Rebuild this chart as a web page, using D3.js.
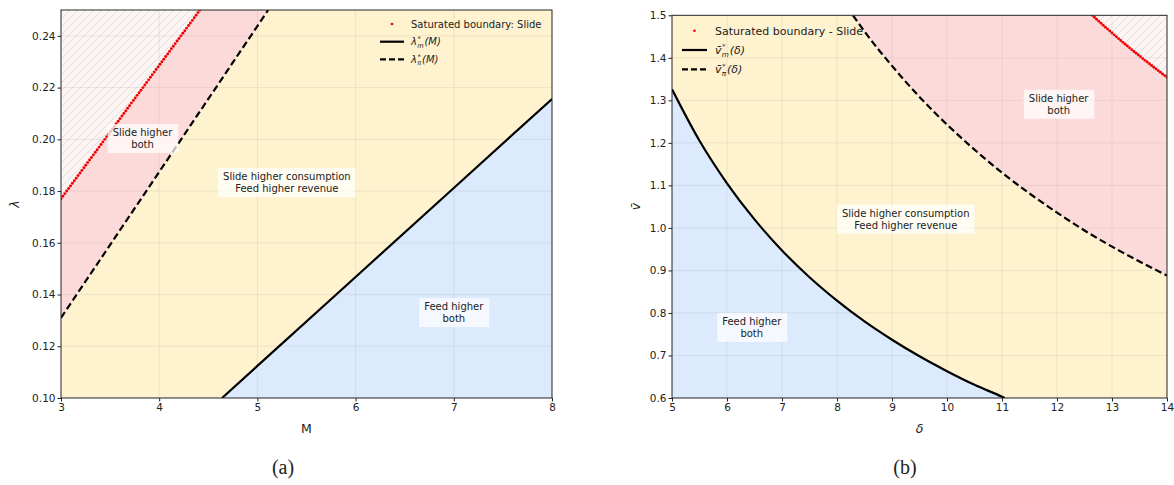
<!DOCTYPE html>
<html>
<head>
<meta charset="utf-8">
<script src="https://cdn.jsdelivr.net/npm/d3@7"></script>
<style>
  body { margin: 0; background: #fff; }
  text { font-family: "DejaVu Sans", sans-serif; fill: #222; }
</style>
</head>
<body>
<svg id="chart" width="1174" height="485"></svg>
<script>
// ---------- panel (a): lambda vs M ----------
const aXTicks = [3, 4, 5, 6, 7, 8];
const aYTicks = [0.10, 0.12, 0.14, 0.16, 0.18, 0.20, 0.22, 0.24];
// lambda*_m(M)  (solid)
const aSolidM = [4.64, 5, 6, 7, 8];
const aSolidL = [0.100, 0.1124, 0.1468, 0.1812, 0.2156];
// lambda*_pi(M) (dashed)
const aDashM = [3, 3.5, 4, 4.5, 5, 5.11];
const aDashL = [0.131, 0.1592, 0.1874, 0.2156, 0.2438, 0.250];
// saturated boundary (Slide)
const aSatM = [3.000, 3.019, 3.039, 3.058, 3.078, 3.097, 3.116, 3.136, 3.155, 3.174,
  3.194, 3.213, 3.233, 3.252, 3.271, 3.291, 3.310, 3.330, 3.349, 3.368,
  3.388, 3.407, 3.426, 3.446, 3.465, 3.485, 3.504, 3.523, 3.543, 3.562,
  3.582, 3.601, 3.620, 3.640, 3.659, 3.678, 3.698, 3.717, 3.737, 3.756,
  3.775, 3.795, 3.814, 3.834, 3.853, 3.872, 3.892, 3.911, 3.930, 3.950,
  3.969, 3.989, 4.008, 4.027, 4.047, 4.066, 4.086, 4.105, 4.124, 4.144,
  4.163, 4.182, 4.202, 4.221, 4.241, 4.260, 4.279, 4.299, 4.318, 4.338,
  4.357, 4.376, 4.396, 4.415];
const aSatL = [0.177, 0.178, 0.179, 0.180, 0.181, 0.182, 0.183, 0.184, 0.185, 0.186,
  0.187, 0.188, 0.189, 0.190, 0.191, 0.192, 0.193, 0.194, 0.195, 0.196,
  0.197, 0.198, 0.199, 0.200, 0.201, 0.202, 0.203, 0.204, 0.205, 0.206,
  0.207, 0.208, 0.209, 0.210, 0.211, 0.212, 0.213, 0.214, 0.215, 0.216,
  0.217, 0.218, 0.219, 0.220, 0.221, 0.222, 0.223, 0.224, 0.225, 0.226,
  0.227, 0.228, 0.229, 0.230, 0.231, 0.232, 0.233, 0.234, 0.235, 0.236,
  0.237, 0.238, 0.239, 0.240, 0.241, 0.242, 0.243, 0.244, 0.245, 0.246,
  0.247, 0.248, 0.249, 0.250];
const aRegionText = [["Slide higher", "both"], ["Slide higher consumption", "Feed higher revenue"], ["Feed higher", "both"]];
const aRegionM = [3.83, 5.30, 7.00];
const aRegionL = [0.2005, 0.1835, 0.1332];

// ---------- panel (b): v-bar vs delta ----------
const bXTicks = [5, 6, 7, 8, 9, 10, 11, 12, 13, 14];
const bYTicks = [0.6, 0.7, 0.8, 0.9, 1.0, 1.1, 1.2, 1.3, 1.4, 1.5];
// v*_m(delta) (solid)
const bSolidD = [5.0, 5.5, 6.0, 6.5, 7.0, 7.5, 8.0, 8.5, 9.0, 9.5, 10.0, 10.5, 11.0, 11.05];
const bSolidV = [1.326, 1.205, 1.105, 1.020, 0.947, 0.884, 0.829, 0.780, 0.737, 0.698, 0.663, 0.631, 0.603, 0.600];
// v*_pi(delta) (dashed)
const bDashD = [8.29, 8.5, 9.0, 9.5, 10.0, 10.5, 11.0, 11.5, 12.0, 12.5, 13.0, 13.5, 14.0];
const bDashV = [1.500, 1.462, 1.381, 1.308, 1.243, 1.184, 1.130, 1.081, 1.036, 0.994, 0.956, 0.921, 0.888];
// saturated boundary (Slide)
const bSatD = [12.64, 12.68, 12.72, 12.76, 12.80, 12.84, 12.88, 12.92, 12.96, 13.00,
  13.04, 13.08, 13.12, 13.16, 13.20, 13.24, 13.28, 13.32, 13.36, 13.40,
  13.44, 13.48, 13.52, 13.56, 13.60, 13.64, 13.68, 13.72, 13.76, 13.80,
  13.84, 13.88, 13.92, 13.96, 14.00];
const bSatV = [1.5000, 1.4953, 1.4906, 1.4859, 1.4813, 1.4766, 1.4720, 1.4675, 1.4630, 1.4585,
  1.4540, 1.4495, 1.4451, 1.4407, 1.4364, 1.4320, 1.4277, 1.4234, 1.4192, 1.4149,
  1.4107, 1.4065, 1.4024, 1.3982, 1.3941, 1.3900, 1.3860, 1.3819, 1.3779, 1.3739,
  1.3699, 1.3660, 1.3621, 1.3582, 1.3543];
const bRegionText = [["Slide higher", "both"], ["Slide higher consumption", "Feed higher revenue"], ["Feed higher", "both"]];
const bRegionD = [12.03, 9.25, 6.45];
const bRegionV = [1.292, 1.022, 0.767];

// ---------- styling ----------
const COL_YELLOW = "#fff2cf";
const COL_BLUE = "#dbeafd";
const COL_PINK = "#fddada";
const COL_SAT = "#fdf4f4";
const COL_RED = "#f00000";

const svg = d3.select("#chart");
const defs = svg.append("defs");
const hatch = defs.append("pattern").attr("id", "hatch").attr("patternUnits", "userSpaceOnUse")
  .attr("width", 8).attr("height", 8);
hatch.append("rect").attr("width", 8).attr("height", 8).attr("fill", COL_SAT);
hatch.append("path").attr("d", "M-2,2 L2,-2 M0,8 L8,0 M6,10 L10,6")
  .attr("stroke", "#d2cccc").attr("stroke-width", 0.6);

const zip = (xs, ys) => xs.map((x, i) => [x, ys[i]]);

function panel(o) {
  const g = svg.append("g");
  const x = d3.scaleLinear().domain(o.xDomain).range([o.left, o.right]);
  const y = d3.scaleLinear().domain(o.yDomain).range([o.bottom, o.top]);
  const clipId = "clip-" + o.id;
  defs.append("clipPath").attr("id", clipId).append("rect")
    .attr("x", o.left).attr("y", o.top).attr("width", o.right - o.left).attr("height", o.bottom - o.top);
  const plot = g.append("g").attr("clip-path", `url(#${clipId})`);
  const line = d3.line().x(d => x(d[0])).y(d => y(d[1])).curve(o.curve);
  const area = d3.line().x(d => x(d[0])).y(d => y(d[1]));
  plot.append("rect").attr("x", o.left).attr("y", o.top)
    .attr("width", o.right - o.left).attr("height", o.bottom - o.top).attr("fill", COL_YELLOW);
  o.fills.forEach(f => {
    const p = line(f.curve) + area([f.curve[f.curve.length - 1]].concat(f.close)).replace(/^M/, "L") + "Z";
    plot.append("path").attr("d", p).attr("fill", f.fill);
  });

  // grid
  const grid = plot.append("g").attr("stroke", "#b0b0b0").attr("stroke-opacity", 0.3).attr("stroke-width", 0.8);
  o.xTicks.forEach(t => grid.append("line").attr("x1", x(t)).attr("x2", x(t)).attr("y1", o.top).attr("y2", o.bottom));
  o.yTicks.forEach(t => grid.append("line").attr("y1", y(t)).attr("y2", y(t)).attr("x1", o.left).attr("x2", o.right));

  // curves
  plot.append("path").attr("d", line(o.solid)).attr("fill", "none").attr("stroke", "#000").attr("stroke-width", 2.2);
  plot.append("path").attr("d", line(o.dashed)).attr("fill", "none").attr("stroke", "#000")
    .attr("stroke-width", 2.2).attr("stroke-dasharray", "7,3.5");
  plot.selectAll(null).data(o.sat).join("circle")
    .attr("cx", d => x(d[0])).attr("cy", d => y(d[1])).attr("r", 1.45).attr("fill", COL_RED);

  // region labels
  o.regions.forEach(r => {
    const lg = plot.append("g");
    const cx = x(r.x), cy = y(r.y);
    const t = lg.append("text").attr("text-anchor", "middle").style("font-size", "10px");
    r.lines.forEach((s, i) => t.append("tspan").attr("x", cx).attr("y", cy - 2 + i * 12).text(s));
    const bb = t.node().getBBox();
    lg.insert("rect", "text").attr("x", bb.x - 5).attr("y", bb.y - 3)
      .attr("width", bb.width + 10).attr("height", bb.height + 6)
      .attr("fill", "#fff").attr("fill-opacity", 0.72);
  });

  // axes
  const xAxis = g.append("g").attr("transform", `translate(0,${o.bottom})`)
    .call(d3.axisBottom(x).tickValues(o.xTicks).tickFormat(d3.format("d")).tickSizeOuter(0).tickSize(3.5).tickPadding(2));
  const yAxis = g.append("g").attr("transform", `translate(${o.left},0)`)
    .call(d3.axisLeft(y).tickValues(o.yTicks).tickFormat(d3.format(o.yFmt)).tickSizeOuter(0).tickSize(3.5).tickPadding(2));
  [xAxis, yAxis].forEach(a => {
    a.select(".domain").remove();
    a.selectAll("line").attr("stroke", "#222");
    a.selectAll("text").style("font-size", o.tickFont + "px").attr("fill", "#222")
      .style("font-family", "'DejaVu Sans', sans-serif");
  });
  g.append("rect").attr("x", o.left).attr("y", o.top).attr("width", o.right - o.left)
    .attr("height", o.bottom - o.top).attr("fill", "none").attr("stroke", "#262626").attr("stroke-width", 1);

  // axis labels
  g.append("text").attr("x", (o.left + o.right) / 2).attr("y", o.bottom + 35).attr("text-anchor", "middle")
    .style("font-size", "12.5px").style("font-style", o.xItalic ? "italic" : "normal").text(o.xLabel);
  g.append("text").attr("transform", `translate(${o.yLabelX},${(o.top + o.bottom) / 2}) rotate(-90)`)
    .attr("text-anchor", "middle").style("font-size", "12.5px").style("font-style", "italic").text(o.yLabel);

  // caption
  g.append("text").attr("x", o.captionX).attr("y", 474).attr("text-anchor", "middle")
    .style("font-family", "'Liberation Serif', 'DejaVu Serif', serif").style("font-size", "20px").text(o.caption);

  // legend
  const lgd = g.append("g");
  const L = o.legend;
  const fs = L.font;
  lgd.append("circle").attr("cx", L.x + L.sw / 2).attr("cy", L.y).attr("r", 1.3).attr("fill", COL_RED);
  lgd.append("text").attr("x", L.x + L.sw + L.gap).attr("y", L.y + fs * 0.36).style("font-size", fs + "px").text(L.sat);
  [[0, null], [1, "6,3"]].forEach(([k, dash]) => {
    const yy = L.y + L.dy * (k + 1);
    const ln = lgd.append("line").attr("x1", L.x).attr("x2", L.x + L.sw).attr("y1", yy).attr("y2", yy)
      .attr("stroke", "#000").attr("stroke-width", 2.2);
    if (dash) ln.attr("stroke-dasharray", dash);
    mathLabel(lgd, L.x + L.sw + L.gap, yy + fs * 0.36, L.base, L.subs[k], L.arg, fs);
  });
  return { x, y };
}

// italic symbol with a '*' superscript stacked over a subscript, then an argument
function mathLabel(g, x0, y0, base, sub, arg, fs) {
  const small = fs * 0.66;
  const t = g.append("text").attr("x", x0).attr("y", y0).style("font-size", fs + "px").style("font-style", "italic");
  t.append("tspan").text(base);
  const sp = t.append("tspan").attr("dx", 0.5).attr("dy", -fs * 0.42).style("font-size", small + "px").text("*");
  const spW = sp.node().getComputedTextLength();
  const sb = t.append("tspan").attr("dx", -spW - 0.2).attr("dy", fs * 0.66).style("font-size", small + "px").text(sub);
  const sbW = sb.node().getComputedTextLength();
  t.append("tspan").attr("dx", Math.max(0, spW - sbW) + 0.8).attr("dy", -fs * 0.24).text(arg);
}

// panel (a)
{
  const solid = zip(aSolidM, aSolidL);
  const dashed = zip(aDashM, aDashL);
  const sat = zip(aSatM, aSatL);
  panel({
    id: "a", left: 61, right: 552, top: 10, bottom: 398, curve: d3.curveLinear,
    xDomain: [3, 8], yDomain: [0.10, 0.25], xTicks: aXTicks, yTicks: aYTicks, yFmt: ".2f", tickFont: 10.5,
    fills: [
      { curve: solid, close: [[8, 0.10]], fill: COL_BLUE },
      { curve: dashed, close: [[3, 0.25]], fill: COL_PINK },
      { curve: sat, close: [[3, 0.25]], fill: "url(#hatch)" }
    ],
    solid, dashed, sat,
    regions: aRegionText.map((lines, i) => ({ lines, x: aRegionM[i], y: aRegionL[i] })),
    xLabel: "M", xItalic: false, yLabel: "λ", yLabelX: 19,
    caption: "(a)", captionX: 283,
    legend: { x: 380, y: 24, sw: 24, gap: 7, dy: 17.7, font: 10, sat: "Saturated boundary: Slide",
      base: "λ", subs: ["m", "π"], arg: "(M)" }
  });
}

// panel (b)
{
  const solid = zip(bSolidD, bSolidV);
  const dashed = zip(bDashD, bDashV);
  const sat = zip(bSatD, bSatV);
  panel({
    id: "b", left: 672, right: 1167, top: 15.3, bottom: 398, curve: d3.curveMonotoneX,
    xDomain: [5, 14], yDomain: [0.6, 1.5], xTicks: bXTicks, yTicks: bYTicks, yFmt: ".1f", tickFont: 10.5,
    fills: [
      { curve: solid, close: [[5, 0.6]], fill: COL_BLUE },
      { curve: dashed, close: [[14, 1.5]], fill: COL_PINK },
      { curve: sat, close: [[14, 1.5]], fill: "url(#hatch)" }
    ],
    solid, dashed, sat,
    regions: bRegionText.map((lines, i) => ({ lines, x: bRegionD[i], y: bRegionV[i] })),
    xLabel: "δ", xItalic: true, yLabel: "v̄", yLabelX: 640,
    caption: "(b)", captionX: 905,
    legend: { x: 682, y: 30.7, sw: 25, gap: 8, dy: 19.3, font: 11, sat: "Saturated boundary - Slide",
      base: "v̄", subs: ["m", "π"], arg: "(δ)" }
  });
}
</script>
</body>
</html>
